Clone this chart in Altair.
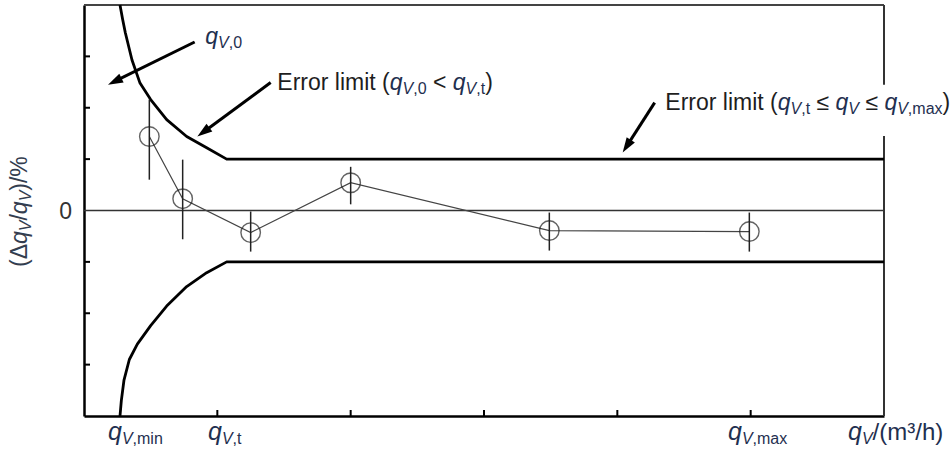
import math
import altair as alt
import pandas as pd

FONT = "Liberation Sans"
TEXT_COL = "#1e1e1e"
Q_COL = "#1f3050"
TITLE_COL = "#333d4f"

# ---- plot area geometry -------------------------------------------------
W, H = 800, 411
X_DOM = [0, 6]
Y_DOM = [-4, 4]
PX_X = W / (X_DOM[1] - X_DOM[0])
PX_Y = H / (Y_DOM[1] - Y_DOM[0])
TICK_PX = 6

# ---- measured relative errors -------------------------------------------
flow = [0.49, 0.74, 1.25, 2.0, 3.49, 4.99]
rel_err = [1.44, 0.23, -0.43, 0.54, -0.39, -0.41]
err_hi = [2.16, 0.99, -0.02, 0.85, -0.04, -0.04]
err_lo = [0.60, -0.56, -0.80, 0.12, -0.78, -0.80]

# ---- maximum permissible error envelope ---------------------------------
upper_x = [0.27, 0.29, 0.31, 0.36, 0.42, 0.50, 0.62, 0.77, 0.92, 1.07, 6.0]
upper_y = [4.0, 3.72, 3.46, 2.93, 2.48, 2.16, 1.77, 1.44, 1.22, 1.0, 1.0]
lower_x = [0.27, 0.28, 0.30, 0.34, 0.40, 0.50, 0.62, 0.77, 0.92, 1.07, 6.0]
lower_y = [-4.0, -3.70, -3.30, -2.90, -2.60, -2.24, -1.86, -1.48, -1.21, -1.0, -1.0]

x_ticks = [1, 2, 3, 4, 5]
y_ticks = [-3, -2, -1, 1, 2, 3]
y_labels = [0]

# ---- annotation arrows (start -> tip) -----------------------------------
arrow_x0 = [0.83, 1.40, 4.28]
arrow_y0 = [3.28, 2.49, 2.10]
arrow_x1 = [0.18, 0.85, 4.04]
arrow_y1 = [2.45, 1.44, 1.13]

# ---- rich-text labels: (text, size, italic, baseline shift, colour) -----
MAIN, SUB = 23, 16
lbl_q0 = [("q", MAIN, True, 0, Q_COL), ("V", SUB, True, 4, Q_COL), (",0", SUB, False, 4, Q_COL)]
lbl_limit_low = [
    ("Error limit (", MAIN, False, 0, TEXT_COL),
    ("q", MAIN, True, 0, Q_COL), ("V", SUB, True, 4, Q_COL), (",0", SUB, False, 4, Q_COL),
    (" < ", MAIN, False, 0, TEXT_COL),
    ("q", MAIN, True, 0, Q_COL), ("V", SUB, True, 4, Q_COL), (",t", SUB, False, 4, Q_COL),
    (")", MAIN, False, 0, TEXT_COL),
]
lbl_limit_high = [
    ("Error limit (", MAIN, False, 0, TEXT_COL),
    ("q", MAIN, True, 0, Q_COL), ("V", SUB, True, 4, Q_COL), (",t", SUB, False, 4, Q_COL),
    (" ≤ ", MAIN, False, 0, TEXT_COL),
    ("q", MAIN, True, 0, Q_COL), ("V", SUB, True, 4, Q_COL),
    (" ≤ ", MAIN, False, 0, TEXT_COL),
    ("q", MAIN, True, 0, Q_COL), ("V", SUB, True, 4, Q_COL), (",max", SUB, False, 4, Q_COL),
    (")", MAIN, False, 0, TEXT_COL),
]
lbl_ytitle = [
    ("(Δ", MAIN, False, 0, TITLE_COL),
    ("q", MAIN, True, 0, TITLE_COL), ("V", SUB, True, 4, TITLE_COL),
    ("/", MAIN, False, 0, TITLE_COL),
    ("q", MAIN, True, 0, TITLE_COL), ("V", SUB, True, 4, TITLE_COL),
    (")/%", MAIN, False, 0, TITLE_COL),
]
QX = 25
lbl_qmin = [("q", QX, True, 0, Q_COL), ("V", SUB, True, 4, Q_COL), (",min", SUB, False, 4, Q_COL)]
lbl_qt = [("q", QX, True, 0, Q_COL), ("V", SUB, True, 4, Q_COL), (",t", SUB, False, 4, Q_COL)]
lbl_qmax = [("q", QX, True, 0, Q_COL), ("V", SUB, True, 4, Q_COL), (",max", SUB, False, 4, Q_COL)]
lbl_unit = [("q", QX, True, 0, Q_COL), ("V", SUB, True, 4, Q_COL), ("/(m³/h)", 24, False, 0, Q_COL)]

# label anchors (left end of baseline, data units)
X_LABEL_Y = -4.47
label_anchor = {
    "q0": (0.91, 3.24),
    "lim_low": (1.45, 2.35),
    "lim_high": (4.36, 1.96),
    "qmin": (0.18, X_LABEL_Y),
    "qt": (0.93, X_LABEL_Y),
    "qmax": (4.83, X_LABEL_Y),
    "unit": (5.73, X_LABEL_Y),
    "ytitle": (-0.43, -1.10),
}
label_box = {"x": [4.31], "x2": [6.6], "y": [1.45], "y2": [2.45]}

# ---- scales and axes ----------------------------------------------------
xs = alt.Scale(domain=X_DOM, nice=False, zero=False)
ys = alt.Scale(domain=Y_DOM, nice=False, zero=False)
x_axis = alt.Axis(labels=False, ticks=False, grid=False, title=None,
                  domainColor="black", domainWidth=2.5)
y_axis = alt.Axis(labels=False, ticks=False, grid=False, title=None,
                  domainColor="black", domainWidth=2.5)


def X(f):
    return alt.X(f, type="quantitative", scale=xs, axis=x_axis)


def Y(f):
    return alt.Y(f, type="quantitative", scale=ys, axis=y_axis)


# Arial / Liberation Sans advance widths (per 1000 em)
ADV = {"E": 667, "r": 333, "o": 556, " ": 278, "l": 222, "i": 222, "m": 833,
       "t": 278, "(": 333, ")": 333, "q": 556, "V": 667, ",": 278, "0": 556,
       "<": 584, "≤": 549, "a": 556, "x": 500, "n": 556, "/": 278, "h": 556,
       "³": 333, "Δ": 668, "%": 889}


def text_width(s, size):
    return sum(ADV.get(c, 556) for c in s) * size / 1000.0


def rich_text(key, segs, angle=0):
    """Lay out styled segments one after another along the baseline."""
    ax, ay = label_anchor[key]
    df = pd.DataFrame({"x": [ax], "y": [ay]})
    layers = []
    off = 0.0
    for txt, size, italic, shift, col in segs:
        body = txt.strip(" ")
        lead = len(txt) - len(txt.lstrip(" "))
        off += text_width(" " * lead, size)
        kw = dict(text=body, dx=off, dy=shift, fontSize=size, font=FONT,
                  fontStyle="italic" if italic else "normal", color=col,
                  align="left", baseline="alphabetic")
        if angle:
            kw["angle"] = angle
        layers.append(alt.Chart(df).mark_text(**kw).encode(x=X("x"), y=Y("y")))
        off += text_width(txt[lead:], size)
    return layers


# ---- data frames --------------------------------------------------------
pts = pd.DataFrame({"x": flow, "y": rel_err, "lo": err_lo, "hi": err_hi})
env = pd.concat([
    pd.DataFrame({"x": upper_x, "y": upper_y, "part": "upper",
                  "i": range(len(upper_x))}),
    pd.DataFrame({"x": lower_x, "y": lower_y, "part": "lower",
                  "i": range(len(lower_x))}),
])
xt = pd.DataFrame({"x": x_ticks, "y0": Y_DOM[0], "y1": Y_DOM[0] + TICK_PX / PX_Y})
yt = pd.DataFrame({"y": y_ticks, "x0": X_DOM[0], "x1": X_DOM[0] + TICK_PX / PX_X})
yl = pd.DataFrame({"y": y_labels, "x": X_DOM[0], "t": [str(v) for v in y_labels]})

# arrows: shaft stops short of the tip, head rotated along the shaft
rows = []
for x0, y0, x1, y1 in zip(arrow_x0, arrow_y0, arrow_x1, arrow_y1):
    dxp = (x1 - x0) * PX_X
    dyp = -(y1 - y0) * PX_Y
    L = math.hypot(dxp, dyp)
    ux, uy = dxp / L, dyp / L
    back = 9.0
    sx = x1 - ux * back / PX_X
    sy = y1 + uy * back / PX_Y
    ang = math.degrees(math.atan2(dxp, -dyp)) % 360
    rows.append({"x0": x0, "y0": y0, "sx": sx, "sy": sy, "tx": x1, "ty": y1, "ang": ang})
arr = pd.DataFrame(rows)
HEAD = "M0,0L0.65,2L-0.65,2Z"

# ---- layers -------------------------------------------------------------
zero_line = alt.Chart(pd.DataFrame({"y": [0], "x0": [X_DOM[0]], "x1": [X_DOM[1]]})).mark_rule(
    color="#333333", strokeWidth=1.3).encode(x=X("x0"), x2="x1", y=Y("y"))

top_border = alt.Chart(pd.DataFrame({"y": [Y_DOM[1]], "x0": [X_DOM[0]], "x1": [X_DOM[1]]})).mark_rule(
    color="#444444", strokeWidth=2).encode(x=X("x0"), x2="x1", y=Y("y"))
right_border = alt.Chart(pd.DataFrame({"x": [X_DOM[1]], "y0": [Y_DOM[0]], "y1": [Y_DOM[1]]})).mark_rule(
    color="#333333", strokeWidth=2).encode(x=X("x"), y=Y("y0"), y2="y1")

x_tick_marks = alt.Chart(xt).mark_rule(color="black", strokeWidth=2).encode(
    x=X("x"), y=Y("y0"), y2="y1")
y_tick_marks = alt.Chart(yt).mark_rule(color="black", strokeWidth=2).encode(
    x=X("x0"), x2="x1", y=Y("y"))
y_tick_labels = alt.Chart(yl).mark_text(
    align="right", baseline="middle", dx=-12, dy=1, fontSize=23, font=FONT,
    color="#333333").encode(x=X("x"), y=Y("y"), text="t:N")

envelope = alt.Chart(env).mark_line(color="black", strokeWidth=2.8, interpolate="linear",
                                    strokeJoin="round").encode(
    x=X("x"), y=Y("y"), detail="part:N", order="i:Q")

err_line = alt.Chart(pts).mark_line(color="#444444", strokeWidth=1.2).encode(
    x=X("x"), y=Y("y"))
err_bars = alt.Chart(pts).mark_rule(color="#222222", strokeWidth=1.5).encode(
    x=X("x"), y=Y("lo"), y2="hi")
err_pts = alt.Chart(pts).mark_point(shape="circle", size=380, filled=False,
                                    color="#222222", strokeWidth=1.4).encode(
    x=X("x"), y=Y("y"))

box = alt.Chart(pd.DataFrame(label_box)).mark_rect(color="white").encode(
    x=X("x"), x2="x2", y=Y("y"), y2="y2")

shafts = alt.Chart(arr).mark_rule(color="black", strokeWidth=3).encode(
    x=X("x0"), x2="sx", y=Y("y0"), y2="sy")
heads = alt.Chart(arr).mark_point(shape=HEAD, size=225, filled=True, color="black",
                                  opacity=1, strokeWidth=0).encode(
    x=X("tx"), y=Y("ty"), angle=alt.Angle("ang:Q", scale=None))

text_layers = (
    rich_text("q0", lbl_q0)
    + rich_text("lim_low", lbl_limit_low)
    + rich_text("lim_high", lbl_limit_high)
    + rich_text("qmin", lbl_qmin)
    + rich_text("qt", lbl_qt)
    + rich_text("qmax", lbl_qmax)
    + rich_text("unit", lbl_unit)
    + rich_text("ytitle", lbl_ytitle, angle=270)
)

chart = alt.layer(
    zero_line, top_border, right_border, x_tick_marks, y_tick_marks, y_tick_labels,
    envelope, err_line, err_bars, err_pts,
    box, shafts, heads, *text_layers,
).properties(
    width=W, height=H,
    autosize=alt.AutoSizeParams(type="none"),
    padding={"left": 84, "top": 5, "right": 68, "bottom": 40},
    background="white",
).configure_view(strokeWidth=0)

chart.save("out.html", embed_options={"renderer": "svg", "actions": False})
